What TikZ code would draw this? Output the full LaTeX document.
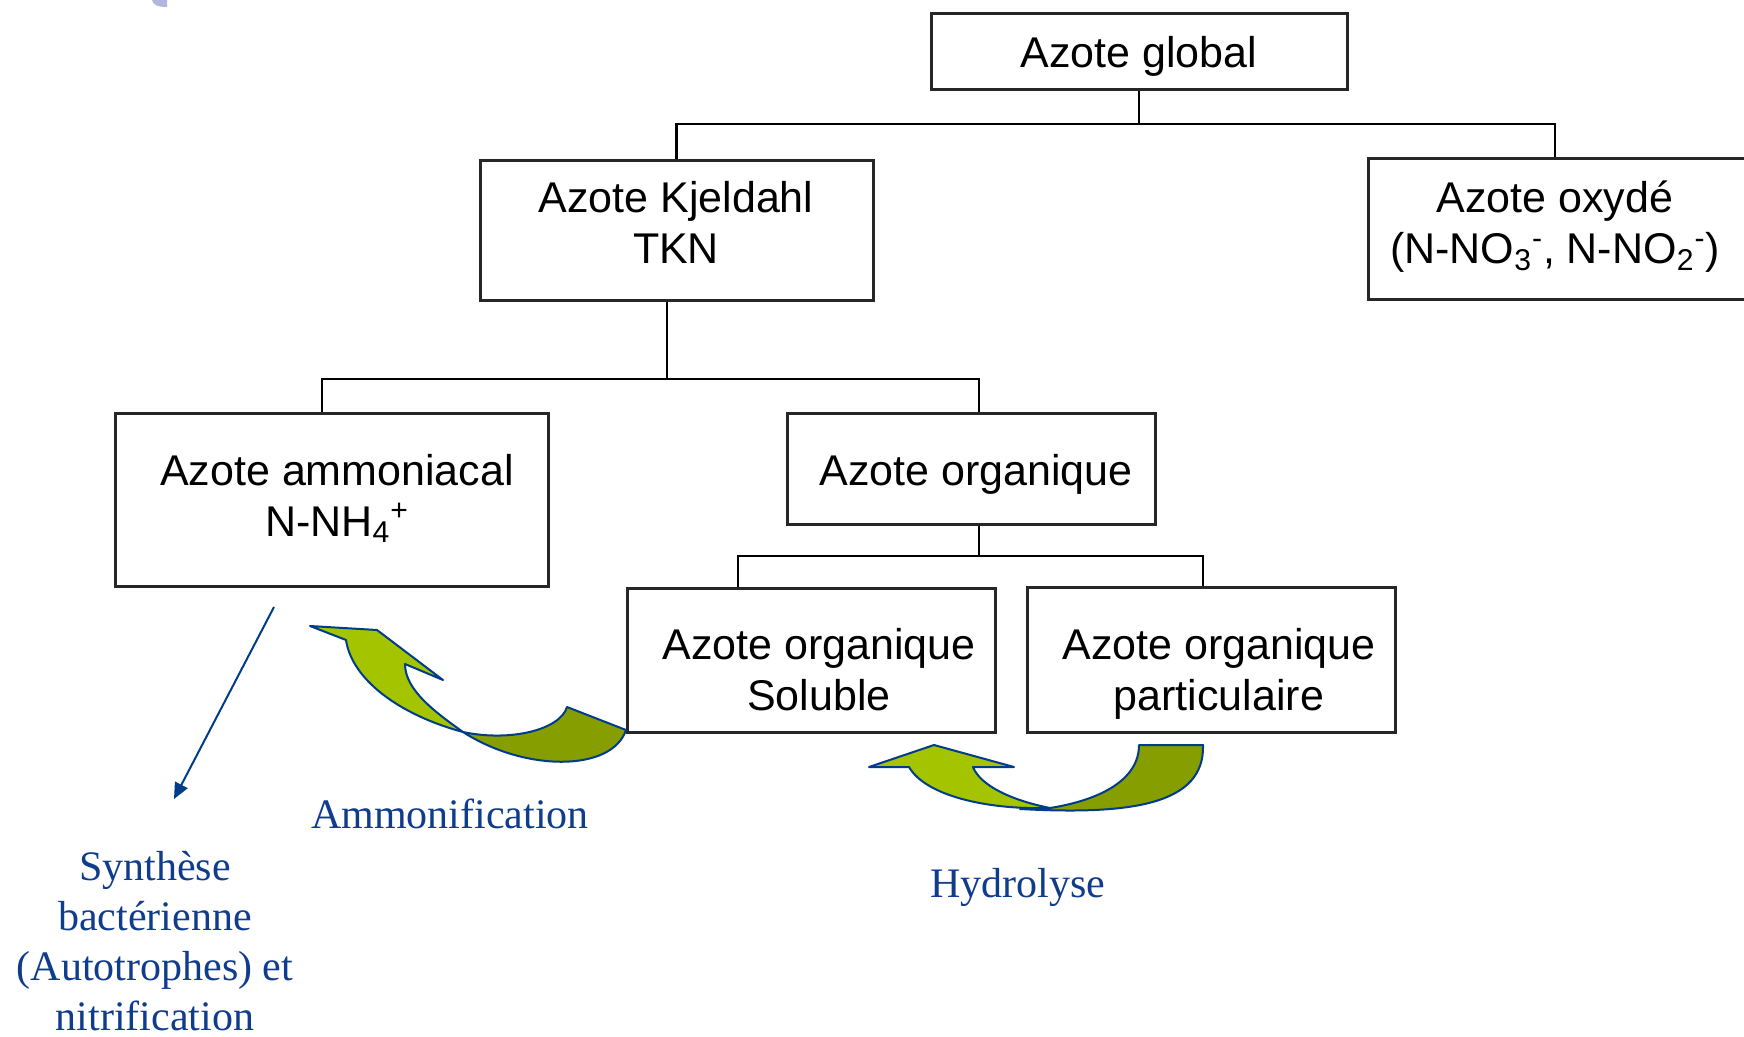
\documentclass[tikz,border=0pt]{standalone}
\usepackage{fontspec}
\setmainfont{Liberation Serif}
\newfontfamily\arialf{Liberation Sans}
\usetikzlibrary{arrows.meta,calc}
\definecolor{lbl}{RGB}{16,60,140}
\definecolor{edgeblue}{RGB}{0,60,135}
\definecolor{lgreen}{RGB}{164,196,0}
\definecolor{dgreen}{RGB}{134,158,0}
\definecolor{lav}{RGB}{178,182,222}
\begin{document}
\begin{tikzpicture}[x=0.5pt,y=-0.5pt,
  box/.style={draw=black!85,line width=1.5pt,inner sep=0pt},
  boxtext/.style={font=\arialf\fontsize{21.5}{25.5}\selectfont,align=center,inner sep=0pt,anchor=base},
  conn/.style={draw=black,line width=1.4pt},
  lbltext/.style={font=\fontsize{21}{25}\selectfont,text=lbl,align=center,inner sep=0pt,anchor=base},
  ribbon/.style={draw=edgeblue,line width=1pt,line join=round},
]
\useasboundingbox (0,0) rectangle (1744,1037);
\clip (0,0) rectangle (1744,1037);

% logo fragment
\fill[lav] (152,0) .. controls (153,5) and (158,7) .. (167,7) -- (167,0) -- cycle;

% boxes
\node[box,minimum width=208pt,minimum height=38pt] (glob) at (1139,52) {};
\node[box,minimum width=196.5pt,minimum height=70.25pt] (kjel) at (676.5,230.3) {};
\node[box,minimum width=191pt,minimum height=70.5pt] (oxy) at (1559,229.5) {};
\node[box,minimum width=216.5pt,minimum height=86.5pt] (amm) at (331.5,499.5) {};
\node[box,minimum width=184pt,minimum height=55.5pt] (org) at (971,468.5) {};
\node[box,minimum width=184pt,minimum height=72pt] (sol) at (811,660) {};
\node[box,minimum width=184pt,minimum height=72.5pt] (par) at (1211,659.5) {};

% box texts (base = baseline of last line)
\node[boxtext] (globt) at (1139,68) {Azote global};
\node[boxtext] (kjelt) at (676,264) {Azote Kjeldahl\\TKN};
\node[boxtext] (oxyt) at (1555,264) {Azote oxydé\\(N-NO\textsubscript{3}\textsuperscript{-}, N-NO\textsubscript{2}\textsuperscript{-})};
\node[boxtext] (ammt) at (337,536) {Azote ammoniacal\\N-NH\textsubscript{4}\textsuperscript{+}};
\node[boxtext] (orgt) at (976,485) {Azote organique};
\node[boxtext] (solt) at (819,710) {Azote organique\\Soluble};
\node[boxtext] (part) at (1219,710) {Azote organique\\particulaire};

% connectors
\coordinate (j1) at (1139,124);
\coordinate (j2) at (667,379);
\coordinate (j3) at (979,556);
\draw[conn] (glob.south) -- (j1);
\draw[conn] (kjel.north) |- (j1) -| (oxyt |- oxy.north);
\draw[conn] (kjel.south -| j2) -- (j2);
\draw[conn] ($(amm.north)+(-9.5,0)$) |- (j2) -| ($(org.north)+(8,0)$);
\draw[conn] (org.south -| j3) -- (j3);
\draw[conn] ($(sol.north)+(-73,0)$) |- (j3) -| ($(par.north)+(-8,0)$);

% Ammonification ribbon arrow
\filldraw[ribbon,fill=lgreen] (463,732) .. controls (400,715) and (352,680) .. (346,640)
  -- (310,626) -- (377,630) -- (443,680) -- (405,664)
  .. controls (405,690) and (435,712) .. (463,732) -- cycle;
\filldraw[ribbon,fill=dgreen] (463,732) .. controls (510,742) and (560,730) .. (567,707)
  -- (626,730) .. controls (612,772) and (525,772) .. (463,732) -- cycle;

% Hydrolyse ribbon arrow
\filldraw[ribbon,fill=lgreen] (909,767) .. controls (925,795) and (985,810) .. (1050,808)
  .. controls (1010,800) and (980,785) .. (973,767)
  -- (1014,767) -- (934,745) -- (869,767) -- cycle;
\filldraw[ribbon,fill=dgreen] (1050,808) .. controls (1100,800) and (1139,780) .. (1139,745)
  -- (1203,745) .. controls (1205,805) and (1130,815) .. (1020,809) -- cycle;

% thin blue arrow
\coordinate (bs) at (274,607);
\coordinate (be) at (174,799);
\draw[draw=edgeblue,line width=1pt,-{Triangle[length=8pt,width=7pt]}] (bs) -- (be);

% labels
\node[lbltext] (lamm) at (450,828) {Ammonification};
\node[lbltext] (lhyd) at (1018,897) {Hydrolyse};
\node[lbltext] (lsyn) at (155,1030) {Synthèse\\bactérienne\\(Autotrophes) et\\nitrification};
\end{tikzpicture}
\end{document}
